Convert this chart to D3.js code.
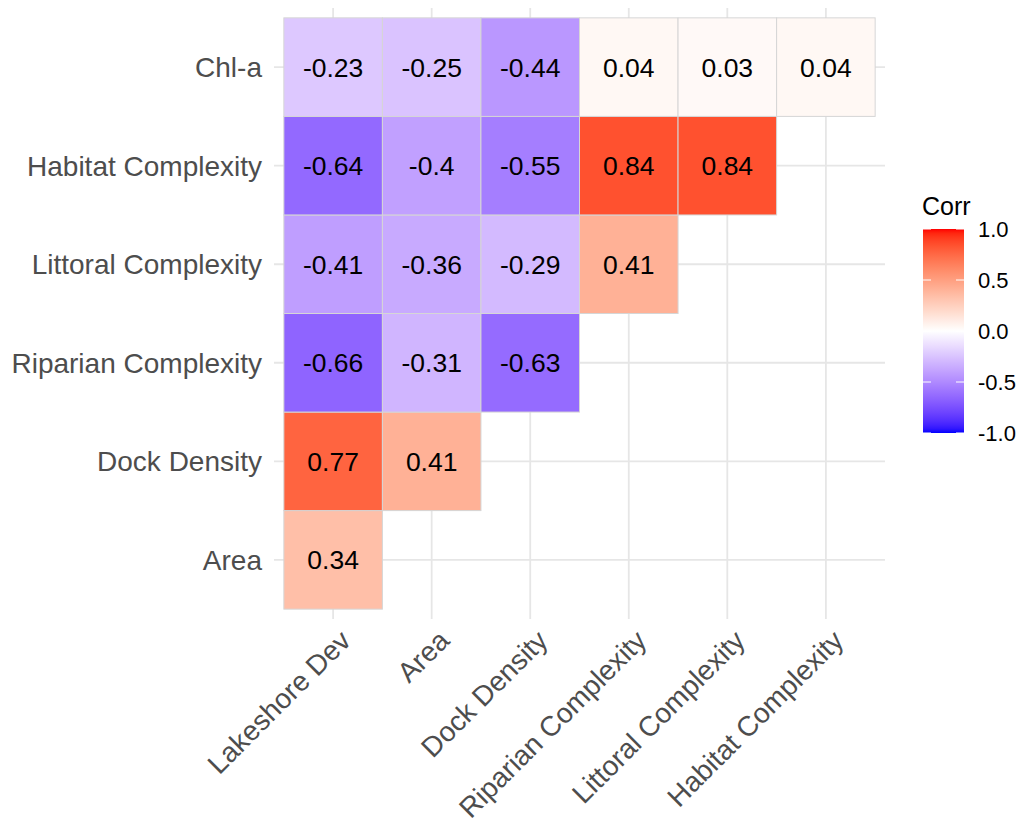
<!DOCTYPE html>
<html>
<head>
<meta charset="utf-8">
<script src="https://cdn.jsdelivr.net/npm/d3@7"></script>
<style>
  html, body { margin: 0; padding: 0; background: #ffffff; }
  svg { display: block; font-family: "Liberation Sans", Arial, Helvetica, sans-serif; }
</style>
</head>
<body>
<svg id="chart" width="1018" height="823"></svg>
<script>
// Column variables (x axis, left to right)
const xVars = ["Lakeshore Dev", "Area", "Dock Density", "Riparian Complexity", "Littoral Complexity", "Habitat Complexity"];
// Row variables (y axis, bottom to top)
const yVars = ["Area", "Dock Density", "Riparian Complexity", "Littoral Complexity", "Habitat Complexity", "Chl-a"];

// Lower-triangle correlations, one array per row variable (in column order)
const corrArea     = [0.34];
const corrDock     = [0.77, 0.41];
const corrRiparian = [-0.66, -0.31, -0.63];
const corrLittoral = [-0.41, -0.36, -0.29, 0.41];
const corrHabitat  = [-0.64, -0.4, -0.55, 0.84, 0.84];
const corrChla     = [-0.23, -0.25, -0.44, 0.04, 0.03, 0.04];

const rowValues = [corrArea, corrDock, corrRiparian, corrLittoral, corrHabitat, corrChla];

// Legend breaks
const legendBreaks = [1.0, 0.5, 0.0, -0.5, -1.0];

// Long-format cells built from the arrays above
const cells = [];
yVars.forEach((yv, r) => {
  rowValues[r].forEach((v, c) => cells.push({ x: xVars[c], y: yv, value: v }));
});

const svg = d3.select("#chart");

// Panel geometry (square tiles)
const panel = { left: 274, right: 885, top: 8, bottom: 619 };

const x = d3.scalePoint().domain(xVars)
  .range([panel.left, panel.right]).padding(0.6);
const y = d3.scalePoint().domain(yVars)
  .range([panel.bottom, panel.top]).padding(0.6);
const step = x.step();

const fill = d3.scaleLinear().domain([-1, 0, 1])
  .range(["blue", "white", "red"])
  .interpolate(d3.interpolateLab);

// Grid lines
const grid = svg.append("g").attr("class", "grid");
grid.selectAll("line.v").data(xVars).join("line")
  .attr("class", "v")
  .attr("x1", d => x(d)).attr("x2", d => x(d))
  .attr("y1", panel.top).attr("y2", panel.bottom)
  .attr("stroke", "#E6E6E6").attr("stroke-width", 1.8);
grid.selectAll("line.h").data(yVars).join("line")
  .attr("class", "h")
  .attr("y1", d => y(d)).attr("y2", d => y(d))
  .attr("x1", panel.left).attr("x2", panel.right)
  .attr("stroke", "#E6E6E6").attr("stroke-width", 1.8);

// Tiles
const tiles = svg.append("g").attr("class", "tiles");
tiles.selectAll("rect").data(cells).join("rect")
  .attr("x", d => x(d.x) - step / 2)
  .attr("y", d => y(d.y) - step / 2)
  .attr("width", step)
  .attr("height", step)
  .attr("fill", d => fill(d.value))
  .attr("stroke", "#D6D6D6")
  .attr("stroke-width", 1);

// Value labels
tiles.selectAll("text").data(cells).join("text")
  .attr("x", d => x(d.x))
  .attr("y", d => y(d.y))
  .attr("dy", "0.36em")
  .attr("text-anchor", "middle")
  .attr("font-size", 26.5)
  .attr("fill", "#000000")
  .text(d => String(d.value));

// Y axis labels
svg.append("g").selectAll("text").data(yVars).join("text")
  .attr("x", panel.left - 12)
  .attr("y", d => y(d))
  .attr("dy", "0.36em")
  .attr("text-anchor", "end")
  .attr("font-size", 28)
  .attr("fill", "#4D4D4D")
  .text(d => d);

// X axis labels, rotated 45 degrees and right-justified
svg.append("g").selectAll("text").data(xVars).join("text")
  .attr("transform", d => `translate(${x(d) + 5},${panel.bottom + 9}) rotate(-45)`)
  .attr("dy", "0.72em")
  .attr("text-anchor", "end")
  .attr("font-size", 28)
  .attr("fill", "#4D4D4D")
  .text(d => d);

// Legend: colour bar
const bar = { left: 923, width: 41, top: 229, bottom: 433 };
const lg = d3.scaleLinear().domain([-1, 1]).range([bar.bottom, bar.top]);

const defs = svg.append("defs");
const grad = defs.append("linearGradient")
  .attr("id", "corrGrad")
  .attr("x1", 0).attr("y1", 1).attr("x2", 0).attr("y2", 0);
d3.range(0, 1.0001, 0.02).forEach(t => {
  grad.append("stop")
    .attr("offset", t)
    .attr("stop-color", fill(-1 + 2 * t));
});

const legend = svg.append("g").attr("class", "legend");
legend.append("text")
  .attr("x", bar.left - 1)
  .attr("y", 215)
  .attr("font-size", 25)
  .attr("fill", "#000000")
  .text("Corr");

legend.append("rect")
  .attr("x", bar.left).attr("y", bar.top)
  .attr("width", bar.width).attr("height", bar.bottom - bar.top)
  .attr("fill", "url(#corrGrad)");

// White tick marks on both edges of the bar
legendBreaks.forEach(b => {
  [[bar.left, bar.left + 8], [bar.left + bar.width - 8, bar.left + bar.width]].forEach(([a, e]) => {
    legend.append("line")
      .attr("x1", a).attr("x2", e)
      .attr("y1", lg(b)).attr("y2", lg(b))
      .attr("stroke", "#ffffff").attr("stroke-width", 1);
  });
});

legend.selectAll("text.lab").data(legendBreaks).join("text")
  .attr("class", "lab")
  .attr("x", 978)
  .attr("y", d => lg(d))
  .attr("dy", "0.36em")
  .attr("font-size", 22)
  .attr("fill", "#000000")
  .text(d => d3.format(".1f")(d).replace("−", "-"));
</script>
</body>
</html>
